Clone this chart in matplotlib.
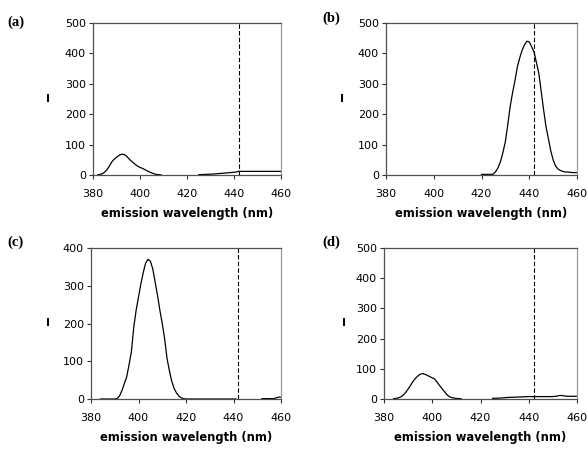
import numpy as np
import matplotlib
matplotlib.use("Agg")
import matplotlib.pyplot as plt

# Emission spectra, four panels (a)-(d); dashed line marks 442 nm
NAN = np.nan
MARK_NM = 442

wl_a = list(range(382, 410)) + [425, 428, 431, 434, 437, 440, 441, 442, 445, 450, 455, 460]
int_a = [1, 2, 4, 10, 18, 30, 43, 52, 58, 64, 68, 68, 64, 56, 48, 41, 35, 29, 25, 22,
         18, 14, 10, 7, 4, 2, 1, 0,
         1, 2, 3, 5, 7, 9, 10, 12, 12, 12, 12, 12]
# gap in the recorded trace between 409 and 425 nm
wl_a = wl_a[:28] + [417] + wl_a[28:]
int_a = int_a[:28] + [NAN] + int_a[28:]

wl_b = list(range(420, 461))
int_b = [2, 2, 2, 2, 2, 3, 12, 25, 45, 75, 110, 165, 225, 270, 310, 355, 385, 410, 428, 440,
         438, 422, 405, 370, 335, 275, 215, 160, 120, 80, 50, 30, 20, 15, 12, 10, 10, 9, 8, 8, 8]

wl_c = list(range(384, 442)) + [446] + list(range(452, 461))
int_c = [0, 0, 0, 0, 0, 0, 0, 1, 8, 22, 40, 58, 90, 125, 190, 235, 270, 305, 335, 360,
         370, 365, 345, 310, 275, 235, 200, 160, 108, 75, 47, 28, 16, 8, 3, 1,
         0, 0, 0, 0, 0, 0, 0, 0, 0, 0, 0, 0, 0, 0, 0, 0, 0, 0, 0, 0, 0, 0,
         NAN,
         1, 1, 1, 1, 1, 1, 3, 5, 5]

wl_d = list(range(384, 413)) + [418] + [425, 428, 431, 434, 437, 440, 445, 450, 452, 453, 454, 456, 460]
int_d = [1, 2, 4, 7, 13, 22, 33, 45, 58, 68, 76, 82, 84, 82, 78, 74, 70, 66, 56, 45,
         35, 25, 15, 8, 5, 3, 2, 1, 1,
         NAN,
         2, 3, 5, 6, 7, 8, 8, 8, 10, 12, 11, 9, 9]

PANELS = [
    # label, wl, intensity, ymax, axes box (px), label pos (px), ylabel offset (px)
    ("(a)", wl_a, int_a, 500, [93, 23, 281, 175], (16, 22), 45),
    ("(b)", wl_b, int_b, 500, [386, 23, 577, 175], (331, 18), 44),
    ("(c)", wl_c, int_c, 400, [91, 248, 281, 399], (16, 242), 43),
    ("(d)", wl_d, int_d, 500, [384, 248, 577, 399], (331, 242), 40),
]

W, H = 588, 449
fig = plt.figure(figsize=(W / 100, H / 100), dpi=100)
fig.patch.set_facecolor("white")


def setup_axis(axis, ymax, ylab_off, width_px):
    axis.set_xlim(380, 460)
    axis.set_ylim(0, ymax)
    axis.set_xticks(range(380, 461, 20))
    axis.set_yticks(range(0, ymax + 1, 100))
    axis.tick_params(direction="out", length=3, width=0.8, labelsize=8, color="#303030")
    axis.tick_params(axis="x", pad=7)
    axis.tick_params(axis="y", pad=2)
    for name in ("left", "bottom", "top"):
        axis.spines[name].set_color("#505050")
        axis.spines[name].set_linewidth(0.9)
    axis.spines["right"].set_color("#9a9a9a")
    axis.spines["right"].set_linewidth(0.9)
    xl = axis.set_xlabel("emission wavelength (nm)", fontsize=8.3, fontweight="bold", labelpad=6)
    axis.set_ylabel("I", fontsize=8, fontweight="bold", rotation=0, va="center", ha="center")
    axis.yaxis.set_label_coords(-ylab_off / width_px, 0.5)


for label, wl, inten, ymax, box, lpos, yoff in PANELS:
    x0, y0, x1, y1 = box
    ax = fig.add_axes([x0 / W, 1 - y1 / H, (x1 - x0) / W, (y1 - y0) / H])
    ax.plot(wl, inten, color="black", linewidth=0.9)
    ax.axvline(MARK_NM, color="black", linewidth=0.8, linestyle=(0, (4, 2)))
    setup_axis(ax, ymax, yoff, x1 - x0)
    fig.text(lpos[0] / W, 1 - lpos[1] / H, label, fontsize=10.5, fontweight="bold",
             family="Liberation Serif", ha="center", va="center")

fig.savefig("out.png", dpi=100)
